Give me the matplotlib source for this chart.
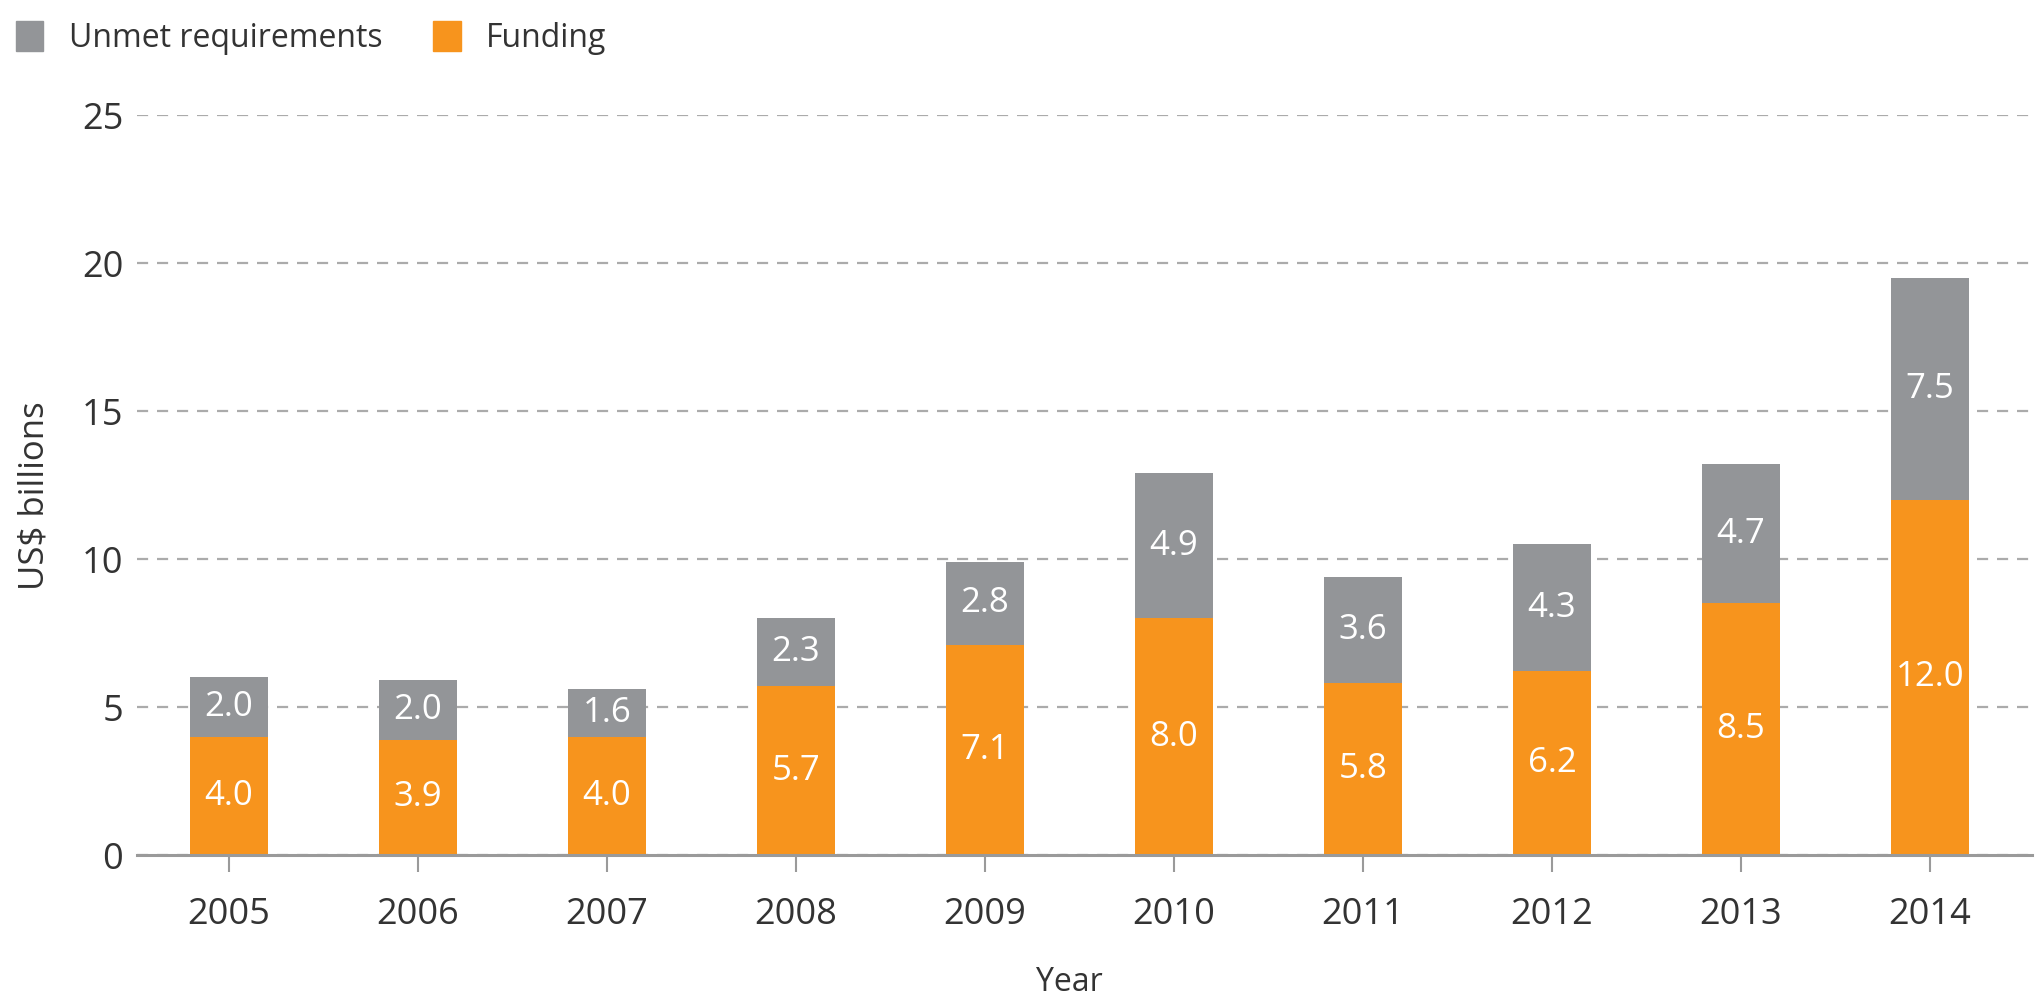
import matplotlib
matplotlib.use("Agg")
import matplotlib.pyplot as plt
from matplotlib.patches import Patch
import numpy as np

plt.rcParams['font.family'] = ['Open Sans', 'DejaVu Sans']

orange = "#f7941d"
grey = "#939598"
text_col = "#333333"
axis_col = "#9a9a9a"

years = ['2005', '2006', '2007', '2008', '2009', '2010', '2011', '2012', '2013', '2014']
funding = [4.0, 3.9, 4.0, 5.7, 7.1, 8.0, 5.8, 6.2, 8.5, 12.0]
unmet = [2.0, 2.0, 1.6, 2.3, 2.8, 4.9, 3.6, 4.3, 4.7, 7.5]
yticks = [0, 5, 10, 15, 20, 25]

fig = plt.figure(figsize=(20.42, 10.02), dpi=100)
ax = fig.add_axes([0.0671, 0.1467, 0.9280, 0.7385])

x = np.arange(len(years))
w = 0.41
ax.bar(x, funding, w, color=orange, zorder=3)
ax.bar(x, unmet, w, bottom=funding, color=grey, zorder=3)

# value labels in the middle of each segment
for i in range(len(years)):
    ax.text(x[i], funding[i] / 2, f"{funding[i]:.1f}", ha='center', va='center',
            color='white', fontsize=25, zorder=4)
    ax.text(x[i], funding[i] + unmet[i] / 2, f"{unmet[i]:.1f}", ha='center', va='center',
            color='white', fontsize=25, zorder=4)

ax.set_xlim(-0.487, 9.54)
ax.set_ylim(0, 25)
ax.set_yticks(yticks)
ax.set_xticks(x, years)

for s in ['top', 'right', 'left']:
    ax.spines[s].set_visible(False)
ax.spines['bottom'].set_color(axis_col)
ax.spines['bottom'].set_linewidth(2.2)
ax.spines['bottom'].set_zorder(5)

ax.yaxis.grid(True, linestyle=(0, (5, 4)), color='#ababab', linewidth=1.6, zorder=0)
ax.set_axisbelow(True)

ax.tick_params(axis='y', length=0, pad=10, labelsize=26, labelcolor=text_col)
ax.tick_params(axis='x', length=12, width=1.5, color=axis_col, pad=18,
               labelsize=26, labelcolor=text_col, direction='out')

ax.set_ylabel('US$ billions', fontsize=25, color=text_col)
ax.yaxis.set_label_coords(-0.045, 0.485)
ax.set_xlabel('Year', fontsize=23, color=text_col)
ax.xaxis.set_label_coords(0.492, -0.15)

handles = [Patch(color=grey), Patch(color=orange)]
fig.legend(handles, ['Unmet requirements', 'Funding'], loc='center left',
           bbox_to_anchor=(0.0078, 0.962), ncol=2, frameon=False, fontsize=23,
           handlelength=0.85, handleheight=1.05, handletextpad=0.8,
           columnspacing=1.6, borderpad=0, borderaxespad=0, labelcolor=text_col)

fig.savefig('out.png', dpi=100)
